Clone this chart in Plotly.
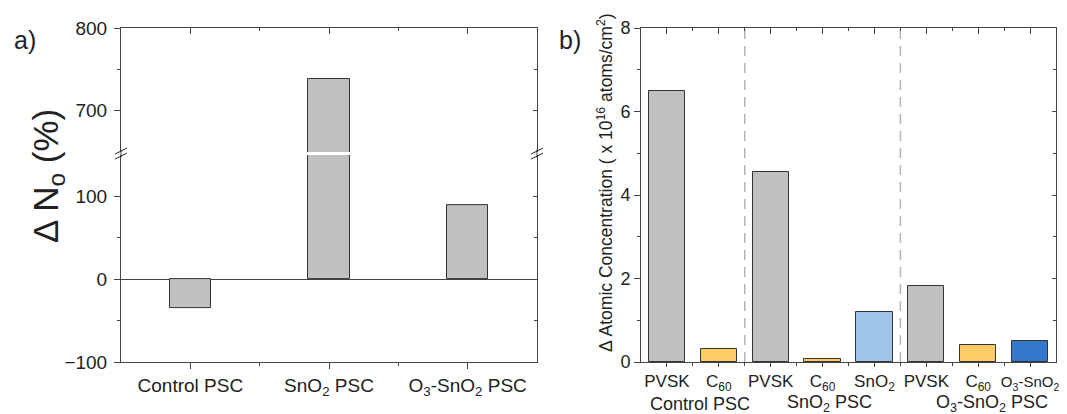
import plotly.graph_objects as go

# ---------------- data ----------------
left_categories = ["Control PSC", "SnO<sub>2</sub> PSC", "O<sub>3</sub>-SnO<sub>2</sub> PSC"]
left_values = [-35, 738, 89]

right_layers = ["PVSK", "C<sub>60</sub>", "PVSK", "C<sub>60</sub>", "SnO<sub>2</sub>",
                "PVSK", "C<sub>60</sub>", "O<sub>3</sub>-SnO<sub>2</sub>"]
right_values = [6.5, 0.3, 4.55, 0.08, 1.2, 1.82, 0.41, 0.5]
right_groups = ["Control PSC", "SnO<sub>2</sub> PSC", "O<sub>3</sub>-SnO<sub>2</sub> PSC"]
right_group_sizes = [2, 3, 3]

# ---------------- style ----------------
PAGE_OFF = 8                       # default body margin of the html page
W, H = 1067 - PAGE_OFF, 414 - PAGE_OFF
FONT = "Liberation Sans, Arial, sans-serif"
AX = "#444444"
TXT = "#222222"
GRAY = "#c0c0c0"
EDGE = "#333333"
YELLOW = "#ffcc66"
LBLUE = "#9fc5e8"
DBLUE = "#3478cc"
right_colors = [GRAY, YELLOW, GRAY, YELLOW, LBLUE, GRAY, YELLOW, DBLUE]
group_label_x = [0.63, 3.13, 6.27]


def px_x(p):
    return (p - PAGE_OFF) / W


def px_y(p):
    return 1 - (p - PAGE_OFF) / H


# geometry (window px)
L_X0, L_X1 = 121, 537
TOP, BOT = 28, 362
UP_BOT, LO_TOP = 152.1, 155.1
BREAK_Y = (UP_BOT + LO_TOP) / 2
R_X0, R_X1 = 641, 1056


def base_axis(size=17, **kw):
    d = dict(showline=True, linecolor=AX, linewidth=1, showgrid=False, zeroline=False,
             tickcolor=AX, tickwidth=1, ticklen=6, automargin=False,
             tickfont=dict(family=FONT, size=size, color=TXT))
    d.update(kw)
    return d


def minor(vals, ticks, ln=3):
    return dict(tickmode="array", tickvals=vals, ticks=ticks, ticklen=ln,
                tickcolor=AX, tickwidth=1, showgrid=False)


fig = go.Figure()

xl = list(range(len(left_values)))
bar_line = dict(color=EDGE, width=1)
fig.add_trace(go.Bar(x=xl, y=left_values, width=0.3, marker=dict(color=GRAY, line=bar_line),
                     xaxis="x", yaxis="y", showlegend=False))
fig.add_trace(go.Bar(x=xl, y=left_values, width=0.3, marker=dict(color=GRAY, line=bar_line),
                     xaxis="x2", yaxis="y2", showlegend=False))
# helper traces so that the mirrored (inside-tick) axes are drawn
fig.add_trace(go.Scatter(x=[], y=[], xaxis="x", yaxis="y4", showlegend=False))
fig.add_trace(go.Scatter(x=[], y=[], xaxis="x2", yaxis="y5", showlegend=False))

xr = list(range(len(right_values)))
fig.add_trace(go.Bar(x=xr, y=right_values, width=0.7,
                     marker=dict(color=right_colors, line=bar_line),
                     xaxis="x3", yaxis="y3", showlegend=False))
fig.add_trace(go.Scatter(x=[], y=[], xaxis="x6", yaxis="y6", showlegend=False))

lx_dom = [px_x(L_X0), px_x(L_X1)]
lo_dom = [px_y(BOT), px_y(LO_TOP)]
up_dom = [px_y(UP_BOT), px_y(TOP)]
rx_dom = [px_x(R_X0), px_x(R_X1)]
ry_dom = [px_y(BOT), px_y(TOP)]

l_minor_x = [i + 0.5 for i in xl[:-1]]
r_minor_x = [i + 0.5 for i in xr[:-1]]

r_ticktext = list(right_layers)
r_ticktext[-1] = '<span style="font-size:15px">' + r_ticktext[-1] + "</span>"

fig.update_layout(
    width=W, height=H, margin=dict(l=0, r=0, t=0, b=0, pad=0),
    plot_bgcolor="white", paper_bgcolor="white", bargap=0,
    font=dict(family=FONT, color=TXT),
    xaxis=base_axis(size=19, domain=lx_dom, range=[-0.5, 2.5], anchor="y", ticks="outside",
                    tickvals=xl, ticktext=left_categories, minor=minor(l_minor_x, "outside")),
    xaxis2=base_axis(domain=lx_dom, range=[-0.5, 2.5], anchor="y2", side="top", ticks="inside",
                     tickvals=xl, showticklabels=False, minor=minor(l_minor_x, "inside")),
    yaxis=base_axis(size=19, domain=lo_dom, range=[-100, 150], anchor="x", ticks="outside",
                    tickvals=[-100, 0, 100], ticktext=["\u2212100", "0", "100"],
                    ticklabelstandoff=3, minor=minor([-50, 50], "outside"),
                    zeroline=True, zerolinecolor=AX, zerolinewidth=1),
    yaxis2=base_axis(size=19, domain=up_dom, range=[650, 800], anchor="x2", ticks="outside",
                     tickvals=[700, 800], ticklabelstandoff=3, minor=minor([750], "outside")),
    yaxis4=base_axis(range=[-100, 150], overlaying="y", anchor="x", side="right",
                     ticks="inside", ticklen=4, tickvals=[-100, 0, 100], showticklabels=False,
                     minor=minor([-50, 50], "inside")),
    yaxis5=base_axis(range=[650, 800], overlaying="y2", anchor="x2", side="right",
                     ticks="inside", ticklen=4, tickvals=[700, 800], showticklabels=False,
                     minor=minor([750], "inside")),
    xaxis3=base_axis(domain=rx_dom, range=[-0.5, 7.5], anchor="y3", ticks="outside",
                     ticklen=4, tickvals=xr, ticktext=r_ticktext,
                     minor=minor(r_minor_x, "outside")),
    yaxis3=base_axis(size=18, domain=ry_dom, range=[0, 8], anchor="x3", ticks="outside",
                     tickvals=[0, 2, 4, 6, 8], minor=minor([1, 3, 5, 7], "outside")),
    xaxis6=base_axis(range=[-0.5, 7.5], overlaying="x3", anchor="y3", side="top",
                     ticks="inside", tickvals=xr, showticklabels=False,
                     minor=minor(r_minor_x, "inside")),
    yaxis6=base_axis(range=[0, 8], overlaying="y3", anchor="x3", side="right",
                     ticks="inside", ticklen=4, tickvals=[0, 2, 4, 6, 8], showticklabels=False,
                     minor=minor([1, 3, 5, 7], "inside")),
)

shapes = []
# axis-break marks on the left panel
for xa in (px_x(L_X0), px_x(L_X1)):
    shapes.append(dict(type="line", xref="paper", yref="paper", xsizemode="pixel",
                       ysizemode="pixel", xanchor=xa, yanchor=px_y(BREAK_Y),
                       x0=0, x1=0, y0=-4, y1=4, line=dict(color=AX, width=1)))
    for off in (-2.5, 2.5):
        shapes.append(dict(type="line", xref="paper", yref="paper", xsizemode="pixel",
                           ysizemode="pixel", xanchor=xa, yanchor=px_y(BREAK_Y),
                           x0=-6, x1=6, y0=off - 3, y1=off + 3,
                           line=dict(color=TXT, width=1)))

# dashed group separators on the right panel
pos = 0
for size in right_group_sizes[:-1]:
    pos += size
    sep = pos - 0.5
    shapes.append(dict(type="line", xref="x3", yref="y3 domain", x0=sep, x1=sep, y0=0, y1=1,
                       line=dict(color="#b4b4b4", width=1.5, dash="10px,7px"), layer="below"))
fig.update_layout(shapes=shapes)

ann = []
for gx, gname in zip(group_label_x, right_groups):
    ann.append(dict(x=gx, y=px_y(403.5), xref="x3", yref="paper", text=gname, showarrow=False,
                    font=dict(family=FONT, size=18, color=TXT),
                    xanchor="center", yanchor="middle"))
ann.append(dict(x=px_x(48), y=px_y(176), xref="paper", yref="paper",
                text="\u0394 N<sub>o</sub> (%)", textangle=-90,
                showarrow=False, font=dict(family=FONT, size=35, color=TXT),
                xanchor="center", yanchor="middle"))
ann.append(dict(x=px_x(605), y=px_y(183), xref="paper", yref="paper",
                text="\u0394 Atomic Concentration ( x 10<sup>16</sup> atoms/cm<sup>2</sup>)",
                textangle=-90, showarrow=False,
                font=dict(family=FONT, size=17.5, color=TXT),
                xanchor="center", yanchor="middle"))
ann.append(dict(x=px_x(25), y=px_y(40), xref="paper", yref="paper", text="a)",
                showarrow=False, font=dict(family=FONT, size=25, color=TXT),
                xanchor="center", yanchor="middle"))
ann.append(dict(x=px_x(570), y=px_y(40), xref="paper", yref="paper", text="b)",
                showarrow=False, font=dict(family=FONT, size=25, color=TXT),
                xanchor="center", yanchor="middle"))
fig.update_layout(annotations=ann)

fig.write_html("out.html")
